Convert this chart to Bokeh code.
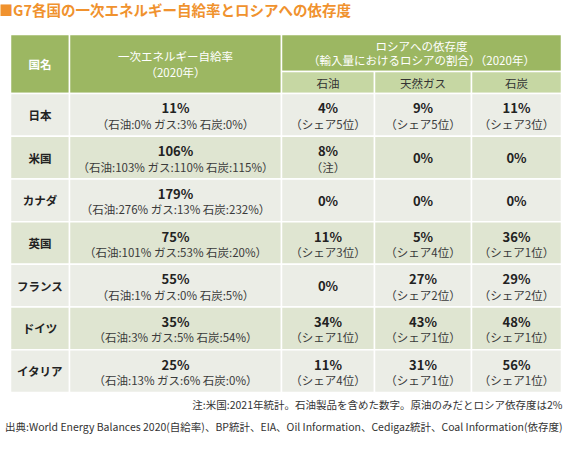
from bokeh.plotting import figure
from bokeh.models import Range1d, ColumnDataSource
from bokeh.core.properties import value
from bokeh.embed import file_html
from bokeh.resources import INLINE

# ---- data ----
title = "■G7各国の一次エネルギー自給率とロシアへの依存度"
countries = ["日本", "米国", "カナダ", "英国", "フランス", "ドイツ", "イタリア"]
self_total = [11, 106, 179, 75, 55, 35, 25]
self_oil = [0, 103, 276, 101, 1, 3, 13]
self_gas = [3, 110, 13, 53, 0, 5, 6]
self_coal = [0, 115, 232, 20, 5, 54, 0]
ru_oil = [4, 8, 0, 11, 0, 34, 11]
ru_oil_rank = ["シェア5位", "注", "", "シェア3位", "", "シェア1位", "シェア4位"]
ru_gas = [9, 0, 0, 5, 27, 43, 31]
ru_gas_rank = ["シェア5位", "", "", "シェア4位", "シェア2位", "シェア1位", "シェア1位"]
ru_coal = [11, 0, 0, 36, 29, 48, 56]
ru_coal_rank = ["シェア3位", "", "", "シェア1位", "シェア2位", "シェア1位", "シェア1位"]
head_country = "国名"
head_self = ["一次エネルギー自給率", "（2020年）"]
head_ru = ["ロシアへの依存度", "（輸入量におけるロシアの割合）（2020年）"]
sub_heads = ["石油", "天然ガス", "石炭"]
note = "注:米国:2021年統計。石油製品を含めた数字。原油のみだとロシア依存度は2%"
source_txt = "出典:World Energy Balances 2020(自給率)、BP統計、EIA、Oil Information、Cedigaz統計、Coal Information(依存度)"

# ---- layout ----
FONT = value("Noto Sans CJK JP")
W, H = 563, 439
edges = [18, 77, 289, 382, 479, 569]
top, mid, hbot, tbot = 42, 79, 101, 400
n = len(countries)
rh = (tbot - hbot) / n
centers = [(edges[i] + edges[i + 1]) / 2 for i in range(5)]

p = figure(width=W, height=H, output_backend="svg", toolbar_location=None,
           x_range=Range1d(8, 8 + W), y_range=Range1d(8 + H, 8),
           min_border=0, x_axis_type=None, y_axis_type=None)
p.grid.visible = False
p.outline_line_color = None
p.background_fill_color = "white"
p.border_fill_color = "white"

# header cells
hdr = dict(left=[edges[0], edges[1], edges[2]], right=[edges[1], edges[2], edges[5]],
           top=[top, top, top], bottom=[hbot, hbot, mid])
p.quad(source=ColumnDataSource(hdr), fill_color="#9cb762", line_color="white", line_width=1.5)
sub = dict(left=edges[2:5], right=edges[3:6], top=[mid] * 3, bottom=[hbot] * 3)
p.quad(source=ColumnDataSource(sub), fill_color="#c6d7a3", line_color="white", line_width=1.5)

# body cells
L, R, T, B, C = [], [], [], [], []
for i in range(n):
    for j in range(5):
        L.append(edges[j]); R.append(edges[j + 1])
        T.append(hbot + i * rh); B.append(hbot + (i + 1) * rh)
        C.append("#ebede6" if i % 2 == 0 else "#dfe5d1")
p.quad(source=ColumnDataSource(dict(left=L, right=R, top=T, bottom=B, color=C)),
       fill_color="color", line_color="white", line_width=1.5)

# header texts
p.text(x=[centers[0]], y=[(top + hbot) / 2], text=[head_country], text_font=FONT,
       text_font_size="11.5px", text_color="white", text_align="center",
       text_baseline="middle", text_font_style="bold")
p.text(x=[centers[1]] * 2, y=[63, 79], text=head_self, text_font=FONT,
       text_font_size="11.5px", text_color="white", text_align="center", text_baseline="middle")
rc = (edges[2] + edges[5]) / 2
p.text(x=[rc] * 2, y=[53, 67], text=head_ru, text_font=FONT,
       text_font_size="11.5px", text_color="white", text_align="center", text_baseline="middle")
p.text(x=centers[2:5], y=[90] * 3, text=sub_heads, text_font=FONT,
       text_font_size="11.5px", text_color="#333333", text_align="center", text_baseline="middle")

# body texts
bx, by, bt = [], [], []
sx, sy, st = [], [], []
nx, ny, nt = [], [], []
for i in range(n):
    yc = hbot + (i + 0.5) * rh
    nx.append(centers[0]); ny.append(yc); nt.append(countries[i])
    bx.append(centers[1]); by.append(yc - 7); bt.append(f"{self_total[i]}%")
    sx.append(centers[1]); sy.append(yc + 9)
    st.append(f"（石油:{self_oil[i]}% ガス:{self_gas[i]}% 石炭:{self_coal[i]}%）")
    for j, (vals, ranks) in enumerate([(ru_oil, ru_oil_rank), (ru_gas, ru_gas_rank),
                                       (ru_coal, ru_coal_rank)]):
        cx = centers[2 + j]
        if ranks[i]:
            bx.append(cx); by.append(yc - 7); bt.append(f"{vals[i]}%")
            sx.append(cx); sy.append(yc + 9); st.append(f"（{ranks[i]}）")
        else:
            bx.append(cx); by.append(yc); bt.append(f"{vals[i]}%")

p.text(x=nx, y=ny, text=nt, text_font=FONT, text_font_size="11.5px", text_color="#222222",
       text_align="center", text_baseline="middle", text_font_style="bold")
p.text(x=bx, y=by, text=bt, text_font=FONT, text_font_size="13px", text_color="#222222",
       text_align="center", text_baseline="middle", text_font_style="bold")
p.text(x=sx, y=sy, text=st, text_font=FONT, text_font_size="11.5px", text_color="#3a3a3a",
       text_align="center", text_baseline="middle")

# title & notes
p.text(x=[6], y=[17], text=[title], text_font=FONT, text_font_size="14.5px",
       text_color="#f0922e", text_align="left", text_baseline="middle", text_font_style="bold")
p.text(x=[570, 570], y=[412, 434], text=[note, source_txt], text_font=FONT,
       text_font_size="10.5px", text_color="#333333", text_align="right", text_baseline="middle")

open("out.html", "w").write(file_html(p, INLINE))
